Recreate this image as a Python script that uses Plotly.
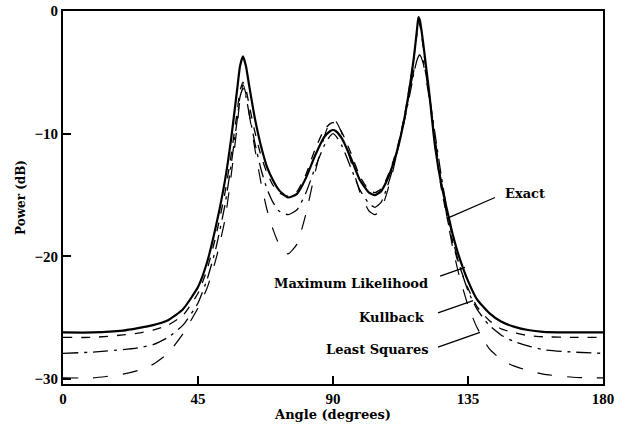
import plotly.graph_objects as go

angles = [0, 10, 20, 25, 30, 35, 40, 45, 48, 51, 54, 56, 58, 59, 60, 61, 62, 64, 66, 68, 70,
          72, 75, 78, 81, 84, 87, 89, 90, 91, 93, 96, 99, 102, 104, 106, 108, 110, 112,
          114, 116, 117, 118, 118.5, 119, 120, 121, 122, 124, 126, 128, 130, 132, 135,
          138, 142, 146, 150, 155, 160, 170, 180]

exact = [-26.2, -26.2, -26.05, -25.85, -25.6, -25.2, -24.3, -22.5, -20.5, -17.5, -13.8, -10.5,
         -6.5, -4.5, -3.7, -4.5, -6.0, -8.8, -11.0, -12.7, -13.8, -14.6, -15.2, -14.9, -13.6,
         -11.8, -10.3, -9.8, -9.7, -9.8, -10.4, -12.0, -13.8, -14.8, -15.0, -14.7, -13.8,
         -12.5, -10.8, -8.5, -5.5, -3.7, -1.5, -0.5, -0.8, -2.5, -4.5, -6.5, -11.0, -14.0,
         -16.2, -18.3, -20.0, -22.0, -23.5, -24.6, -25.3, -25.7, -26.0, -26.15, -26.2, -26.2]

max_likelihood = [-26.6, -26.6, -26.4, -26.25, -26.0, -25.6, -24.8, -23.0, -21.1, -18.3, -14.8,
                  -11.8, -8.3, -6.5, -5.8, -6.4, -7.6, -9.9, -11.8, -13.2, -14.2, -14.8, -15.1,
                  -14.7, -13.3, -11.3, -9.7, -9.2, -9.1, -9.2, -9.9, -11.6, -13.5, -14.6, -14.8,
                  -14.5, -13.6, -12.3, -10.6, -8.3, -5.4, -3.7, -1.8, -0.9, -1.2, -2.8, -4.8,
                  -6.6, -11.0, -14.3, -16.8, -19.0, -20.7, -22.6, -24.1, -25.2, -25.9, -26.2,
                  -26.45, -26.55, -26.6, -26.6]

kullback = [-27.9, -27.8, -27.6, -27.45, -27.2, -26.6, -25.6, -23.8, -21.9, -19.3, -15.8, -12.6,
            -9.0, -7.0, -6.3, -7.0, -8.3, -10.8, -12.9, -14.5, -15.6, -16.3, -16.6, -16.2,
            -14.8, -12.8, -11.0, -10.2, -10.0, -10.2, -11.0, -12.8, -14.6, -15.7, -16.0, -15.6,
            -14.4, -12.8, -10.9, -8.7, -6.3, -5.0, -4.0, -3.7, -3.6, -4.0, -5.2, -6.7, -10.0,
            -13.3, -16.2, -18.7, -20.6, -22.8, -24.3, -25.6, -26.4, -26.9, -27.3, -27.6, -27.8,
            -27.9]

least_squares = [-29.9, -29.9, -29.6, -29.3, -28.8, -27.9, -26.3, -24.2, -22.6, -20.2, -17.0,
                 -13.5, -9.5, -7.2, -6.0, -6.8, -8.3, -11.3, -14.0, -16.2, -17.8, -19.0, -19.8,
                 -19.0, -16.5, -13.2, -10.3, -9.0, -8.8, -9.0, -10.0, -12.3, -14.8, -16.3, -16.6,
                 -16.2, -14.8, -13.0, -10.8, -8.4, -6.0, -4.8, -3.8, -3.6, -3.6, -4.2, -5.5,
                 -7.0, -10.3, -13.8, -16.8, -19.4, -21.5, -24.0, -25.8, -27.5, -28.4, -28.9,
                 -29.3, -29.6, -29.85, -29.9]

x_ticks = [0, 45, 90, 135, 180]
y_ticks = [0, -10, -20, -30]

FONT = "Liberation Serif"
LFONT = "DejaVu Serif"

fig = go.Figure()
series = [
    ("Exact", exact, "solid", 2.2),
    ("Maximum Likelihood", max_likelihood, "dash", 1.3),
    ("Kullback", kullback, "longdashdot", 1.3),
    ("Least Squares", least_squares, "longdash", 1.2),
]
for name, vals, dash, w in series:
    fig.add_trace(go.Scatter(x=angles, y=vals, mode="lines", name=name,
                             line=dict(color="black", width=w, dash=dash, shape="spline",
                                       smoothing=0.5),
                             showlegend=False))

# labels with pointer lines
labels = [
    ("Exact", 146.5, -14.9, "left", (128, -16.9), (144, -15.2)),
    ("Maximum Likelihood", 122.3, -22.2, "right", (125.7, -21.6), (134, -20.9)),
    ("Kullback", 121.3, -25.0, "right", (125, -24.6), (136.7, -23.6)),
    ("Least Squares", 122.3, -27.6, "right", (125, -27.4), (139, -26.2)),
]
for text, tx, ty, anchor, p0, p1 in labels:
    fig.add_annotation(x=tx, y=ty, text="<b>" + text + "</b>", showarrow=False,
                       xanchor=anchor, yanchor="middle",
                       font=dict(family=LFONT, size=13, color="black"))
    fig.add_shape(type="line", x0=p0[0], y0=p0[1], x1=p1[0], y1=p1[1],
                  line=dict(color="black", width=1.3))

fig.update_layout(
    width=626, height=431,
    margin=dict(l=63, r=23, t=11, b=47),
    paper_bgcolor="white", plot_bgcolor="white",
    font=dict(family=FONT, color="black"),
)
fig.update_xaxes(range=[0, 180], tickvals=x_ticks, ticktext=[str(v) for v in x_ticks],
                 automargin=False,
                 showgrid=False, zeroline=False, showline=True, mirror=True,
                 linecolor="black", linewidth=2, ticks="inside", ticklen=8, tickwidth=1.5,
                 tickcolor="black",
                 tickfont=dict(family=FONT, size=15, weight="bold"),
                 title=dict(text="<b>Angle (degrees)</b>", standoff=2,
                            font=dict(family=LFONT, size=13)))
fig.update_yaxes(range=[-30.4, 0], tickvals=y_ticks, ticktext=["0", "−10", "−20", "−30"],
                 automargin=False,
                 showgrid=False, zeroline=False, showline=True, mirror=True,
                 linecolor="black", linewidth=2, ticks="inside", ticklen=8, tickwidth=1.5,
                 tickcolor="black",
                 tickfont=dict(family=FONT, size=15, weight="bold"),
                 title=dict(text="<b>Power (dB)</b>", standoff=6,
                            font=dict(family=LFONT, size=12)))

fig.write_html("out.html", config={"displayModeBar": False},
               post_script="document.body.style.margin='0px';")
